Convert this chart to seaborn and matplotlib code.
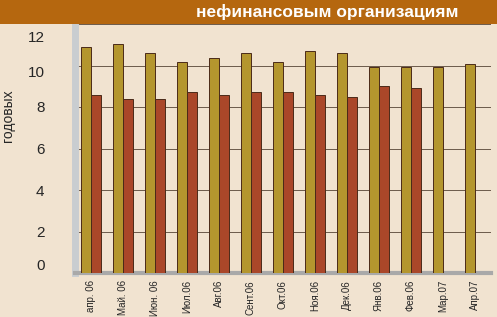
import pandas as pd
import matplotlib.pyplot as plt
import matplotlib.transforms as mtrans
import seaborn as sns
from matplotlib.patches import Rectangle

# month labels and the two series
months = ['апр. 06', 'Май. 06', 'Июн. 06', 'Июл.06', 'Авг.06', 'Сент.06', 'Окт.06',
          'Ноя.06', 'Дек.06', 'Янв.06', 'Фев.06', 'Мар.07', 'Апр.07']
series_a = [10.9, 11.05, 10.6, 10.15, 10.35, 10.6, 10.15, 10.7, 10.6, 9.95, 9.95, 9.95, 10.05]
series_b = [8.6, 8.4, 8.4, 8.7, 8.6, 8.7, 8.7, 8.6, 8.5, 9.0, 8.9, None, None]
yticks = [0, 2, 4, 6, 8, 10, 12]

df = pd.DataFrame({
    'month': months * 2,
    'value': series_a + series_b,
    'series': ['a'] * len(months) + ['b'] * len(months),
})

sns.set_style('white')
plt.rcParams['font.family'] = ['Liberation Sans Narrow', 'Liberation Sans', 'DejaVu Sans']

bg = '#f1e3d0'
fig = plt.figure(figsize=(4.97, 3.17), dpi=100, facecolor=bg)

# header band
fig.patches.append(Rectangle((0, 1 - 24 / 317), 1, 24 / 317, transform=fig.transFigure,
                             facecolor='#b5670f', edgecolor='none', zorder=0))
fig.text(0.922, 1 - 12 / 317, 'нефинансовым организациям', color='white', fontsize=12.5,
         fontweight='bold', ha='right', va='center')

ax = fig.add_axes([75 / 497, 44 / 317, 416 / 497, 249 / 317])
ax.set_facecolor(bg)
sns.barplot(data=df, x='month', y='value', hue='series', order=months,
            palette={'a': '#caa218', 'b': '#bf3b14'}, width=0.6, dodge=True,
            edgecolor='#4a2a18', linewidth=0.7, legend=False, ax=ax, zorder=3)

ax.set_ylim(0, 12)
ax.set_xlim(-0.5, 12.5)
ax.set_yticks(yticks)
ax.set_yticklabels([str(t) for t in yticks], fontsize=11)
ax.yaxis.grid(True, color='#6b5a4a', linewidth=0.7)
ax.set_axisbelow(True)
ax.tick_params(axis='y', pad=22, length=0)
ax.tick_params(axis='x', rotation=90, labelsize=7, pad=2, length=3, direction='out')
ax.set_xlabel('')
ax.set_ylabel('годовых', fontsize=10)
ax.yaxis.set_label_coords(-0.145, 0.63)

# the reference prints a few y labels slightly off their gridlines
shifts = {0: 8, 10: -6, 12: -13}
for lab, t in zip(ax.get_yticklabels(), yticks):
    if t in shifts:
        lab.set_transform(lab.get_transform() +
                          mtrans.ScaledTranslation(0, shifts[t] / 100, fig.dpi_scale_trans))

for side in ['top', 'right']:
    ax.spines[side].set_visible(False)
ax.spines['left'].set_color('#c9cdd0')
ax.spines['left'].set_linewidth(5)
ax.spines['bottom'].set_color('#a9a9a9')
ax.spines['bottom'].set_linewidth(3)

fig.savefig('out.png', dpi=100, facecolor=bg)
